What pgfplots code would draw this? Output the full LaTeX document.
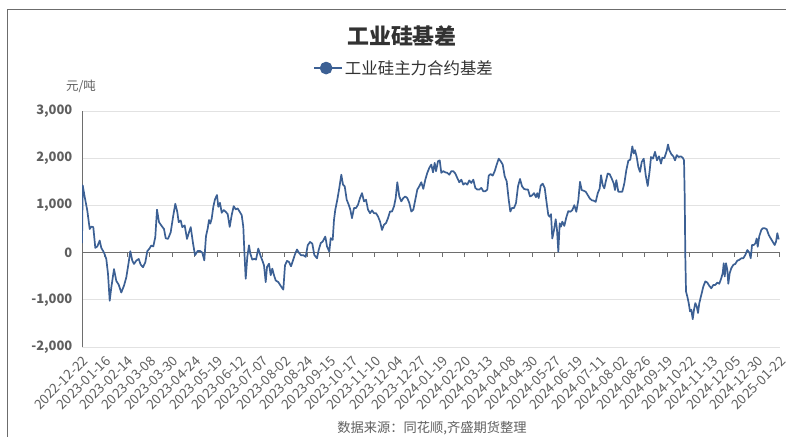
\documentclass[border=0pt]{standalone}
\usepackage{pgfplots}
\pgfplotsset{compat=1.18}
\usepackage{fontspec}
\setmainfont{Noto Sans CJK SC}

\definecolor{linec}{RGB}{60,96,148}
\definecolor{gridc}{RGB}{226,226,226}
\definecolor{axisc}{RGB}{110,110,110}
\definecolor{labc}{RGB}{95,95,95}
\definecolor{titlec}{RGB}{50,50,50}

\begin{document}
\begin{tikzpicture}[x=1bp,y=1bp]
  \begin{axis}[
      scale only axis, width=698bp, height=236bp,
      xmin=0, xmax=698, ymin=-2000, ymax=3000,
      axis x line=bottom, axis y line=left,
      axis line style={-, color=axisc, line width=0.8bp},
      x axis line style={draw=none},
      xtick={0,22.5,...,697.5},
      xticklabels={2022-12-22,2023-01-16,2023-02-14,2023-03-08,2023-03-30,2023-04-24,2023-05-19,2023-06-12,2023-07-07,2023-08-02,2023-08-24,2023-09-15,2023-10-17,2023-11-10,2023-12-04,2023-12-27,2024-01-19,2024-02-20,2024-03-13,2024-04-08,2024-04-30,2024-05-27,2024-06-19,2024-07-11,2024-08-02,2024-08-26,2024-09-19,2024-10-22,2024-11-13,2024-12-05,2024-12-30,2025-01-22},
      xtick style={draw=none},
      ytick={-2000,-1000,...,3000},
      ytick style={draw=none},
      ymajorgrids, grid style={color=gridc, line width=0.8bp},
      xticklabel shift=4bp,
      xticklabel style={rotate=45, anchor=north east, inner sep=1bp,
        font=\fontsize{13.5}{13.5}\selectfont, text=labc},
      yticklabel style={font=\bfseries\fontsize{13}{13}\selectfont, text=labc, xshift=-4bp},
      /pgf/number format/1000 sep={,},
      /pgf/number format/assume math mode=true,
      legend style={at={(axis description cs:0.331,1.182)}, anchor=west,
        draw=none, fill=none, inner sep=0pt,
        font=\fontsize{16.5}{16.5}\selectfont, text=titlec},
      legend image code/.code={
        \draw[line width=1.8bp] (0bp,0bp) -- (24bp,0bp);
        \fill (12bp,0bp) circle (5.5bp);
        \path (24bp,0bp) -- (28bp,0bp);},
    ]
    \coordinate (O) at (rel axis cs:0,0);
    % zero line of the x axis, with its ticks
    \draw[color=axisc, line width=0.8bp] (axis cs:0,0) -- (axis cs:698,0);
    \pgfplotsinvokeforeach{0,22.5,45,67.5,90,112.5,135,157.5,180,202.5,225,247.5,270,292.5,315,337.5,360,382.5,405,427.5,450,472.5,495,517.5,540,562.5,585,607.5,630,652.5,675,697.5}{
      \draw[color=axisc, line width=0.8bp] (axis cs:#1,0) -- ++(0bp,-4bp);
    }
    \addplot[color=linec, line width=1.7bp, mark=none, line join=round] coordinates {
      (0,200) (0.7,1425) (2.7,1180) (5.3,890) (7.7,500) (9.3,550) (11.3,540)
      (13.3,100) (15.3,130) (17.7,255) (19.3,100) (22,0) (24.3,-135) (26,-450)
      (27.7,-1020) (29.3,-740) (32,-350) (34.3,-600) (36.7,-680) (39.3,-845)
      (42,-700) (44.3,-525) (46.7,-205) (48.3,30) (50.3,-170) (52,-240)
      (54.3,-170) (56.7,-135) (58.7,-255) (61,-310) (63.3,-205) (65.3,30)
      (67.3,80) (69.3,150) (71.3,130) (73.3,330) (75,910) (77,645) (79.3,575)
      (82,500) (83.7,305) (86,290) (88.7,430) (91,750) (93.3,1035) (95.3,860)
      (96.7,645) (98.7,680) (100.3,540) (102.7,575) (105,290) (107,430)
      (108.7,540) (111,200) (113,-55) (115.7,35) (118,35) (120.3,0)
      (122.3,-165) (124,350) (125.7,510) (127,690) (128.3,615) (129.7,720)
      (131.3,970) (133,1130) (135,1220) (136.3,970) (138,1055) (139.7,845)
      (141.7,900) (143.7,865) (145.7,815) (147.7,545) (149.7,795) (151.7,985)
      (153.7,915) (155.7,935) (157.7,865) (159.7,795) (161.3,545) (162.3,50)
      (163.7,-555) (165.3,-90) (167,155) (168.3,-20) (170.3,-150) (172.3,-130)
      (174,-150) (176.3,85) (178.3,-55) (180.3,-165) (182,-270) (183.7,-625)
      (185,-305) (187,-235) (188.7,-480) (190.3,-340) (192,-480) (193.7,-590)
      (196.3,-625) (199,-715) (201.3,-785) (203,-270) (205,-175) (207,-200)
      (209,-290) (211,-165) (213,-35) (215,65) (217,-5) (219,-55) (221.3,-55)
      (223.7,-90) (225.7,155) (228,225) (230.3,190) (232.3,-50) (235,-120)
      (236.7,55) (238.7,200) (240.7,235) (243.3,340) (245,130) (247.3,20)
      (248.7,305) (250.7,270) (252,695) (253.3,910) (255.3,1120) (257.3,1370)
      (259.3,1650) (261,1440) (262.7,1405) (264.7,1120) (266.7,1015) (268.3,910)
      (270,730) (272,945) (274,945) (276,1015) (278,1155) (280,1260) (282,1085)
      (284,1120) (286,910) (288,835) (290,895) (292,835) (294,835) (296,765)
      (298,660) (300,480) (302,590) (304,625) (306,730) (308,870) (310,870)
      (312,980) (313.7,1155) (315.3,1490) (317.3,1190) (319.3,1085)
      (321.3,1155) (323.3,1190) (325.3,1155) (327.3,1050) (329.3,870)
      (331.3,910) (333.3,1120) (335.3,1335) (337.3,1405) (339.3,1490)
      (341.3,1350) (343.3,1545) (345.3,1690) (347.3,1795) (349.3,1865)
      (351,1700) (352.7,1900) (354,1725) (356,1935) (357.7,1955) (359.3,1690)
      (361.3,1725) (363.3,1700) (365.3,1690) (367.3,1650) (369.3,1725)
      (371.3,1725) (373.3,1675) (375.3,1580) (377.3,1490) (379.3,1545)
      (381.3,1440) (383.3,1475) (385.3,1440) (387.3,1530) (389.3,1475)
      (391.3,1545) (393.3,1370) (395.3,1335) (397.3,1335) (399.3,1370)
      (401.3,1300) (403.3,1300) (405.3,1335) (406.7,1630) (408.7,1665)
      (410.7,1630) (412.7,1725) (414.7,1865) (416.7,1990) (418.7,1935)
      (420.7,1865) (422.7,1615) (424.7,1510) (426.7,1120) (428.3,870) (430,945)
      (432,945) (434,1050) (436,1405) (438,1560) (440,1405) (442,1350)
      (444,1335) (446,1335) (448,1190) (450,1210) (452,1260) (454,1175)
      (455.3,1260) (456.7,1155) (458.7,1420) (460.7,1460) (462.7,1370)
      (464.7,1040) (466.3,795) (467.7,760) (469,815) (470.3,300) (472,480)
      (473.7,705) (475,480) (476.3,20) (477.7,620) (479,550) (480.3,655)
      (482.3,565) (484.3,745) (486.3,880) (488.3,865) (490.3,900) (492.3,1005)
      (494.3,865) (496.3,1110) (498,1500) (499.7,1325) (501.7,1310)
      (503.7,1290) (505.7,1220) (507.7,1150) (509.7,1110) (511.7,1100)
      (513.7,1075) (515.7,1255) (517.7,1360) (519,1640) (520.7,1430)
      (522.3,1360) (523.7,1500) (525.7,1675) (527.7,1660) (529.7,1570)
      (531.7,1465) (533,1325) (534.3,1535) (536.3,1290) (538.3,1290)
      (540.3,1290) (542.3,1465) (544.3,1745) (546.3,1945) (548.3,1970)
      (550.3,2250) (551.7,2100) (553,2170) (554.7,2025) (556.3,1815) (558,1710)
      (559.7,1920) (561.7,1990) (563.7,1640) (565.7,1410) (567.7,1745)
      (569,2025) (571,1990) (573,2135) (575,1955) (577,2040) (579,1885)
      (580.3,2010) (582.3,2000) (584.7,2155) (586,2290) (587.3,2170)
      (589.3,2085) (591.3,2040) (593,1955) (594.7,2065) (596.7,2025)
      (598.7,2040) (600.7,2010) (602,1955) (602.7,1180) (603.3,-85) (604,-825)
      (605.3,-930) (606.7,-1070) (608,-1245) (609.3,-1210) (610.7,-1410)
      (612,-1210) (613.3,-1070) (614.7,-1140) (616,-1280) (617.3,-1070)
      (619.3,-895) (621.3,-720) (623.3,-610) (625.3,-635) (627.3,-705)
      (629.3,-755) (631.3,-685) (633.3,-685) (635.3,-635) (637.3,-660)
      (639.3,-540) (640.7,-435) (641.7,-225) (642.7,-505) (644,-225)
      (645.3,-365) (646.3,-660) (647.7,-435) (649.3,-330) (651.3,-260)
      (653.3,-240) (655.3,-170) (657.3,-155) (659.3,-120) (661.3,-120)
      (663.3,-50) (665.3,55) (667.3,0) (668.7,-120) (670,160) (671.7,160)
      (673.3,195) (674.7,300) (675.7,125) (677.3,350) (679.3,480) (680.7,515)
      (682.7,515) (684.7,495) (686.7,375) (688.7,300) (690.7,230) (692.7,160)
      (694,230) (695.3,410) (696.7,280)
    };
    \addlegendentry{工业硅主力合约基差}
  \end{axis}
  % page frame, title, unit and source, placed from the axis' lower left corner
  \pgfresetboundingbox
  \begin{scope}[shift={(O)}]
    \path[use as bounding box] (-82,-90) rectangle (704,347);
    \draw[color=gray!85!black, line width=1bp] (-74.5,-90) -- (-74.5,337) -- (704,337);
    \node[font=\bfseries\fontsize{22}{22}\selectfont, text=titlec] at (320,311) {工业硅基差};
    \node[font=\fontsize{12.5}{12.5}\selectfont, text=labc] at (-1,261) {元/吨};
    \node[font=\fontsize{13.3}{13.3}\selectfont, text=labc] at (350,-81) {数据来源：同花顺,齐盛期货整理};
  \end{scope}
\end{tikzpicture}
\end{document}
